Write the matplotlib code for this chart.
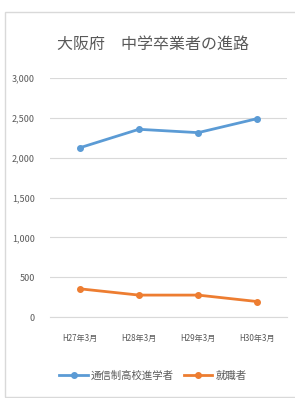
import matplotlib.pyplot as plt
from matplotlib.patches import Rectangle

plt.rcParams['font.family'] = ['Noto Sans CJK JP', 'DejaVu Sans']

# data
years = ['H27年3月', 'H28年3月', 'H29年3月', 'H30年3月']
tsushin = [2122, 2354, 2312, 2488]   # 通信制高校進学者
shushoku = [357, 278, 278, 197]      # 就職者
yticks = [0, 500, 1000, 1500, 2000, 2500, 3000]

W, H = 295, 398
fig = plt.figure(figsize=(W / 100, H / 100), dpi=100)
fig.patch.set_facecolor('white')

# chart area border
fig.add_artist(Rectangle((5 / W, 1.5 / H), 292 / W, (H - 13.5) / H,
                         transform=fig.transFigure, fill=False,
                         edgecolor='#d9d9d9', linewidth=1))

ax = fig.add_axes([50 / W, (H - 317.3) / H, 237 / W, (317.3 - 77.7) / H])

x = list(range(len(years)))
ax.plot(x, tsushin, color='#5b9bd5', linewidth=2, marker='o', markersize=4,
        label='通信制高校進学者')
ax.plot(x, shushoku, color='#ed7d31', linewidth=2, marker='o', markersize=4,
        label='就職者')

ax.set_xlim(-0.5, len(years) - 0.5)
ax.set_ylim(0, 3000)
ax.set_yticks(yticks)
ax.set_yticklabels([f'{v:,}' for v in yticks])
ax.set_xticks(x)
ax.set_xticklabels(years)
ax.tick_params(axis='both', length=0, colors='#595959')
ax.tick_params(axis='y', pad=11, labelsize=6.5)
ax.tick_params(axis='x', pad=12, labelsize=5.8)

ax.grid(axis='y', color='#d9d9d9', linewidth=0.8)
ax.set_axisbelow(True)
for s in ['top', 'right', 'left']:
    ax.spines[s].set_visible(False)
ax.spines['bottom'].set_color('#d9d9d9')

fig.text(153 / W, 1 - 44 / H, '大阪府　中学卒業者の進路', ha='center', va='center',
         fontsize=11.5, color='#595959')

fig.legend(loc='center', bbox_to_anchor=(153 / W, 1 - 376 / H), ncol=2,
           frameon=False, fontsize=7.5, labelcolor='#595959',
           handlelength=2.7, columnspacing=1.0, handletextpad=0.3)

fig.savefig('out.png', dpi=100, facecolor='white')
